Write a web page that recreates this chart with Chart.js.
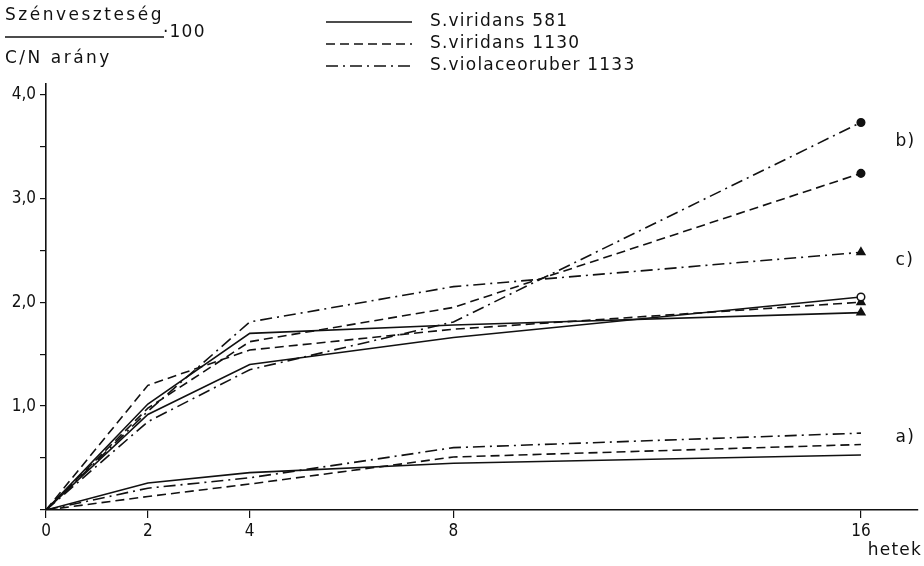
<!DOCTYPE html>
<html>
<head>
<meta charset="utf-8">
<script src="https://cdn.jsdelivr.net/npm/chart.js@4/dist/chart.umd.min.js"></script>
<style>
  body { margin: 0; background: #fff; }
  #wrap { width: 924px; height: 566px; position: relative; }
</style>
</head>
<body>
<div id="wrap"><canvas id="myChart"></canvas></div>
<script>
// ---- data (hetek / weeks) ----
const weeks = [0, 2, 4, 8, 16];
const yTicks = [0, 0.5, 1, 1.5, 2, 2.5, 3, 3.5, 4];
const yTickLabels = ['', '', '1,0', '', '2,0', '', '3,0', '', '4,0'];

// a) group
const aSolid   = [0, 0.26, 0.36, 0.45, 0.53];
const aDashed  = [0, 0.13, 0.25, 0.51, 0.63];
const aDashDot = [0, 0.21, 0.31, 0.60, 0.74];
// b) group (circles at the end)
const bSolid   = [0, 0.92, 1.40, 1.66, 2.05];
const bDashed  = [0, 0.98, 1.62, 1.95, 3.24];
const bDashDot = [0, 0.85, 1.35, 1.81, 3.73];
// c) group (triangles at the end)
const cSolid   = [0, 1.02, 1.70, 1.78, 1.90];
const cDashed  = [0, 1.20, 1.54, 1.74, 2.00];
const cDashDot = [0, 0.95, 1.81, 2.15, 2.48];

const legendNames = ['S.viridans 581', 'S.viridans 1130', 'S.violaceoruber 1133'];
const groupLabels = ['a)', 'b)', 'c)'];
const groupLabelY = [0.70, 3.55, 2.40];

const FONT = "'DejaVu Sans Condensed', 'DejaVu Sans', sans-serif";
const TFONT = "'DejaVu Sans', sans-serif";
const SOLID = [];
const DASH = [9, 5];
const DASHDOT = [12, 5, 2, 5];

function pts(arr) {
    return arr.map((v, i) => ({ x: weeks[i], y: v }));
}
function endRadius(r) {
    return weeks.map((w, i) => i === weeks.length - 1 ? r : 0);
}

function line(arr, dash, marker, fill) {
    return {
        data: pts(arr),
        borderColor: '#111',
        borderWidth: 1.6,
        borderDash: dash,
        pointStyle: marker || 'circle',
        pointRadius: marker ? endRadius(marker === 'triangle' ? 4.5 : 3.8) : 0,
        pointBackgroundColor: fill || '#111',
        pointBorderColor: '#111',
        pointBorderWidth: 1.5,
        tension: 0,
        fill: false,
    };
}

const datasets = [
    line(aSolid, SOLID),
    line(aDashed, DASH),
    line(aDashDot, DASHDOT),
    line(bSolid, SOLID, 'circle', '#fff'),
    line(bDashed, DASH, 'circle'),
    line(bDashDot, DASHDOT, 'circle'),
    line(cSolid, SOLID, 'triangle'),
    line(cDashed, DASH, 'triangle'),
    line(cDashDot, DASHDOT, 'triangle'),
];

// ----- extra texts: legend, y title, group labels, "hetek" -----
const extras = {
    id: 'extras',
    afterDraw(chart) {
        const ctx = chart.ctx;
        const xs = chart.scales.x, ys = chart.scales.y;
        ctx.save();
        ctx.fillStyle = '#111';
        ctx.strokeStyle = '#111';
        ctx.font = '17px ' + TFONT;
        ctx.letterSpacing = '1.2px';
        ctx.textBaseline = 'middle';

        // legend
        const dashes = [SOLID, DASH, DASHDOT];
        legendNames.forEach((name, i) => {
            const y = 22 + i * 22;
            ctx.lineWidth = 1.6;
            ctx.setLineDash(dashes[i]);
            ctx.beginPath();
            ctx.moveTo(326, y);
            ctx.lineTo(412, y);
            ctx.stroke();
            ctx.setLineDash([]);
            ctx.textAlign = 'left';
            ctx.fillText(name, 430, y);
        });

        // y axis title (fraction)
        ctx.textAlign = 'left';
        ctx.letterSpacing = '2.5px';
        ctx.fillText('Szénveszteség', 5, 16);
        ctx.fillText('C/N arány', 5, 59);
        ctx.letterSpacing = '1.2px';
        ctx.lineWidth = 1.3;
        ctx.beginPath();
        ctx.moveTo(5, 37);
        ctx.lineTo(164, 37);
        ctx.stroke();
        ctx.fillText('·100', 163, 33);

        // group labels
        groupLabels.forEach((t, i) => {
            ctx.fillText(t, xs.getPixelForValue(16.68), ys.getPixelForValue(groupLabelY[i]));
        });

        // x axis unit
        ctx.textAlign = 'right';
        ctx.fillText('hetek', 922, 551);
        ctx.restore();
    }
};

const ctx = document.getElementById('myChart').getContext('2d');
const config = {
    type: 'line',
    data: { datasets: datasets },
    options: {
        responsive: true,
        maintainAspectRatio: false,
        animation: false,
        layout: { padding: { top: 84, right: 0, left: 0, bottom: 0 } },
        plugins: {
            legend: { display: false },
            tooltip: { enabled: false },
        },
        scales: {
            x: {
                type: 'linear',
                min: 0,
                max: 17.12,
                afterBuildTicks: s => { s.ticks = weeks.map(v => ({ value: v })); },
                afterFit: s => { s.height = 56; },
                ticks: {
                    color: '#111',
                    font: { family: FONT, size: 17 },
                    padding: 3,
                    maxRotation: 0,
                    callback: v => String(v),
                },
                grid: { display: true, drawOnChartArea: false, tickLength: 8, color: '#111', lineWidth: 1.2 },
                border: { display: true, color: '#111', width: 1.6 },
            },
            y: {
                min: 0,
                max: 4.1,
                afterBuildTicks: s => { s.ticks = yTicks.map(v => ({ value: v })); },
                afterFit: s => { s.width = 46; },
                ticks: {
                    color: '#111',
                    font: { family: FONT, size: 17 },
                    padding: 4,
                    callback: (v, i) => yTickLabels[i],
                },
                grid: { display: true, drawOnChartArea: false, tickLength: 6, color: '#111', lineWidth: 1.2 },
                border: { display: true, color: '#111', width: 1.6 },
            },
        },
    },
    plugins: [extras],
};

Chart.defaults.color = '#111';
const sensorsChart = new Chart(ctx, config);
</script>
</body>
</html>
